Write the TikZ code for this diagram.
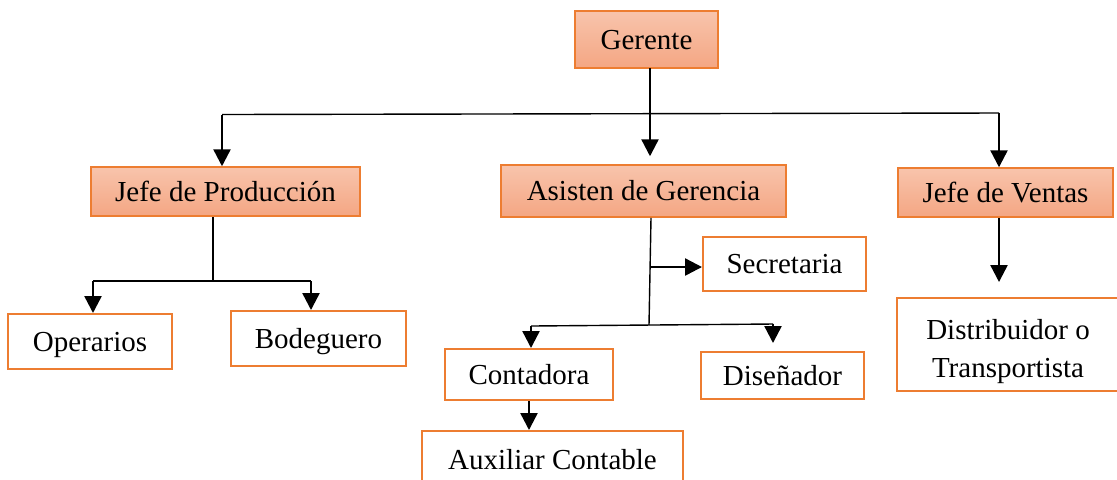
\documentclass[tikz,border=0pt]{standalone}
\usepackage{fontspec}
\setmainfont{Liberation Serif}
\usepackage{tikz}
\usetikzlibrary{calc,arrows.meta,positioning}
\definecolor{borde}{HTML}{ED7D31}
\definecolor{rellenoA}{HTML}{F8C4AC}
\definecolor{rellenoB}{HTML}{F4A683}
\tikzset{
  letra/.style={font=\fontsize{14.5}{19}\selectfont},
  jefe/.style={draw=borde,line width=0.75pt,top color=rellenoA,bottom color=rellenoB,
    inner sep=0pt,letra,text height=13pt,text depth=3.5pt},
  cargo/.style={draw=borde,line width=1pt,fill=white,
    inner sep=0pt,letra,text height=13pt,text depth=3.5pt},
  linea/.style={line width=0.7pt,black},
  flecha/.style={line width=1.2pt,black,-{Triangle[width=8.5pt,length=8.5pt]}}
}
\begin{document}
\begin{tikzpicture}[x=0.5pt,y=-0.5pt]
  \useasboundingbox (0,0) rectangle (1117,479);
  \clip (0,0) rectangle (1117,479);
  % cajas
  \node[jefe,minimum width=71.5pt,minimum height=28.5pt](ger)at(646.5,39.5){Gerente};
  \node[jefe,minimum width=134.5pt,minimum height=24.5pt](prod)at(225.5,191.5){Jefe de Producción};
  \node[jefe,minimum width=142.5pt,minimum height=26pt](asis)at(643.5,191){Asisten de Gerencia};
  \node[jefe,minimum width=107.5pt,minimum height=24.5pt](vent)at(1005.5,192.5){Jefe de Ventas};
  \node[cargo,minimum width=81.5pt,minimum height=27pt](secr)at(784.5,264){Secretaria};
  \node[cargo,minimum width=82pt,minimum height=27.5pt](oper)at(90,341.5){Operarios};
  \node[cargo,minimum width=87.5pt,minimum height=27.5pt](bode)at(318.5,338.5){Bodeguero};
  \node[cargo,minimum width=84pt,minimum height=25.5pt](cont)at(529,374.5){Contadora};
  \node[cargo,minimum width=81.5pt,minimum height=23.5pt](dise)at(782.5,375.5){Diseñador};
  \node[cargo,minimum width=130.5pt,minimum height=29pt](auxi)at(552.5,460){Auxiliar Contable};
  \node[cargo,minimum width=111pt,minimum height=46.5pt](dist)at(1008,344.5){};
  \node[letra,align=center,inner sep=0pt](distt)at(1008,352){Distribuidor o\\Transportista};
  % puntos de union
  \coordinate (hi) at (222,114.5);
  \coordinate (hd) at (999,113);
  \coordinate (gb) at (650,68);
  \coordinate (pj) at (213,281);
  \coordinate (pi) at (93,281);
  \coordinate (pd) at (311,281);
  \coordinate (aj) at (649,325);
  \coordinate (as) at (651,267);
  \coordinate (ai) at (531,326);
  \coordinate (ad) at (773,324);
  % conectores
  \draw[linea] (hi) -- (hd);
  \draw[flecha,shorten >=4pt] (gb) -- (gb |- asis.north);
  \draw[flecha] (hi) -- (hi |- prod.north);
  \draw[flecha] (hd) -- (hd |- vent.north);
  \draw[linea] (prod.south -| pj) -- (pj);
  \draw[linea] (pi) -- (pd);
  \draw[flecha] (pi) -- (pi |- oper.north);
  \draw[flecha] (pd) -- (pd |- bode.north);
  \draw[linea] (asis.south -| as) -- (aj);
  \draw[flecha] (as) -- (as -| secr.west);
  \draw[linea] (ai) -- (ad);
  \draw[flecha] (ai) -- (ai |- cont.north);
  \draw[flecha,shorten >=4pt] (ad) -- (ad |- dise.north);
  \draw[flecha] (cont.south) -- (cont.south |- auxi.north);
  \draw[flecha,shorten >=7.5pt] (vent.south -| hd) -- (hd |- dist.north);
\end{tikzpicture}
\end{document}
